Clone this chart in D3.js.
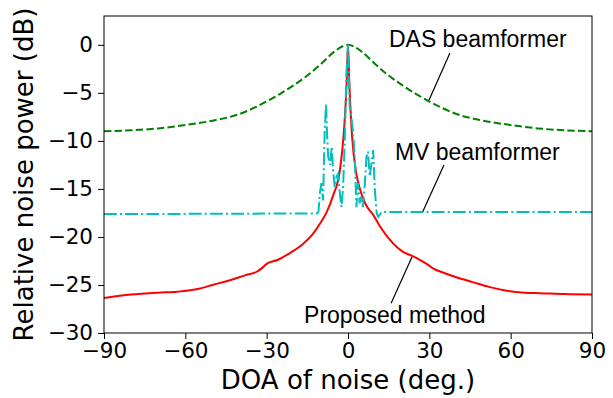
<!DOCTYPE html>
<html>
<head>
<meta charset="utf-8">
<script src="https://cdn.jsdelivr.net/npm/d3@7"></script>
<style>
  body { margin: 0; background: #fff; }
  svg { display: block; }
</style>
</head>
<body>
<script>
// DOA of noise (deg.) vs relative noise power (dB)
const dasX = [-90, -80, -70, -60, -50, -40, -30, -25, -20, -15, -10, -5, -2, 0, 2, 5, 10, 15, 20, 25, 30, 40, 50, 60, 70, 80, 90]
const dasY = [-9.0, -8.9, -8.7, -8.35, -7.9, -7.2, -5.9, -5.1, -4.2, -3.2, -2.0, -0.7, -0.15, 0, -0.15, -0.7, -2.0, -3.2, -4.2, -5.1, -5.9, -7.2, -7.9, -8.35, -8.7, -8.9, -9.0]

const mvX = [-90, -60, -30, -11.5, -10.9, -10.4, -9.8, -9.2, -8.6, -8.1, -7.7, -7.3, -6.6, -6.0, -5.5, -4.9, -4.3, -3.6, -3.0, -2.4, -1.8, -1.2, -0.6, 0,
             0.6, 1.2, 1.8, 2.5, 3.1, 3.7, 4.3, 4.9, 5.5, 6.2, 6.8, 7.4, 8.0, 8.6, 9.3, 9.9, 10.6, 11.2, 12.4, 30, 60, 90]
const mvY = [-17.6, -17.6, -17.57, -17.55, -17.4, -15.5, -14.4, -16.2, -9.0, -6.1, -9.5, -11.65, -12.5, -10.6, -13.0, -14.8, -13.8, -13.4, -15.5, -16.9, -14.8, -10.0, -3.0, 0,
             -6.4, -7.5, -8.9, -11.65, -16.9, -14.4, -16.5, -15.8, -16.9, -14.5, -11.65, -11.1, -13.7, -12.5, -10.95, -15.1, -17.55, -17.9, -17.4, -17.4, -17.4, -17.4]

const propX = [-90, -80, -70, -63, -55, -50, -43.5, -38, -33.5, -32, -30, -26, -21, -16.5, -13, -10.3, -8, -5.5, -3, -1.5, -0.5, 0,
               0.5, 1.5, 3, 4.4, 6.5, 9.3, 12, 16.7, 20, 23, 26, 29, 31.5, 35, 40, 46, 52, 58.5, 65, 70.8, 80, 90]
const propY = [-26.35, -26.0, -25.8, -25.7, -25.4, -25.0, -24.5, -24.0, -23.6, -23.3, -22.8, -22.4, -21.6, -20.7, -19.7, -18.6, -17.5, -15.7, -13.1, -9.0, -4.0, 0,
               -4.0, -9.5, -13.3, -15.0, -16.6, -17.7, -19.0, -20.7, -21.5, -21.9, -22.3, -22.8, -23.3, -23.7, -24.2, -24.7, -25.2, -25.6, -25.8, -25.85, -25.95, -26.0]

const xTicks = [-90, -60, -30, 0, 30, 60, 90]
const yTicks = [-30, -25, -20, -15, -10, -5, 0]

const notes = [
  {text: 'DAS beamformer', tx: 15.1, ty: -0.2, x1: 37.6, y1: -0.85, x2: 29.9, y2: -5.75},
  {text: 'MV beamformer', tx: 17.3, ty: -12.0, x1: 35.4, y1: -12.5, x2: 27.6, y2: -17.35},
  {text: 'Proposed method', tx: -16.2, ty: -28.95, x1: 23.6, y1: -22.1, x2: 15.9, y2: -26.9}
]

let width = 613,
    height = 398
const margin = {left: 104, right: 21, top: 16, bottom: 65}
const plotW = width - margin.left - margin.right,
      plotH = height - margin.top - margin.bottom

let svg = d3.select('body').append('svg')
  .attr('width', width)
  .attr('height', height)

const x = d3.scaleLinear().domain([-90, 90]).range([0, plotW])
const y = d3.scaleLinear().domain([-30, 3]).range([plotH, 0])

let plot = svg.append('g')
  .attr('transform', `translate(${margin.left}, ${margin.top})`)

const zip = (xs, ys) => xs.map((v, i) => [v, ys[i]])

let smooth = d3.line().x(d => x(d[0])).y(d => y(d[1])).curve(d3.curveMonotoneX)
let straight = d3.line().x(d => x(d[0])).y(d => y(d[1]))

plot.append('path')
  .attr('d', smooth(zip(dasX, dasY)))
  .style('fill', 'none')
  .style('stroke', '#008000')
  .style('stroke-width', 2)
  .style('stroke-dasharray', '7.4,3.2')

plot.append('path')
  .attr('d', smooth(zip(propX, propY)))
  .style('fill', 'none')
  .style('stroke', '#ff0000')
  .style('stroke-width', 2)

plot.append('path')
  .attr('d', straight(zip(mvX, mvY)))
  .style('fill', 'none')
  .style('stroke', '#00bfbf')
  .style('stroke-width', 2)
  .style('stroke-dasharray', '12.8,3.2,2,3.2')

// annotations
notes.forEach(n => {
  plot.append('line')
    .attr('x1', x(n.x1)).attr('y1', y(n.y1))
    .attr('x2', x(n.x2)).attr('y2', y(n.y2))
    .style('stroke', 'black')
    .style('stroke-width', 1.2)
  plot.append('text')
    .attr('x', x(n.tx))
    .attr('y', y(n.ty))
    .text(n.text)
    .style('font-family', '"Liberation Sans", Arial, sans-serif')
    .style('font-size', '23px')
})

// axes
let xAxis = plot.append('g')
  .attr('transform', `translate(0, ${plotH})`)
  .call(d3.axisBottom(x).tickValues(xTicks).tickSizeOuter(0).tickSize(6).tickPadding(4))
let yAxis = plot.append('g')
  .call(d3.axisLeft(y).tickValues(yTicks).tickSizeOuter(0).tickSize(6).tickPadding(5))

;[xAxis, yAxis].forEach(a => {
  a.select('.domain').remove()
  a.selectAll('line').style('stroke', 'black').style('stroke-width', 1)
  a.selectAll('text')
    .style('font-family', '"DejaVu Sans", sans-serif')
    .style('font-size', '21.5px')
    .style('fill', 'black')
})

plot.append('rect')
  .attr('width', plotW)
  .attr('height', plotH)
  .style('fill', 'none')
  .style('stroke', 'black')
  .style('stroke-width', 1)

svg.append('text')
  .attr('x', margin.left + plotW / 2)
  .attr('y', 389)
  .attr('text-anchor', 'middle')
  .text('DOA of noise (deg.)')
  .style('font-family', '"DejaVu Sans", sans-serif')
  .style('font-size', '26px')

svg.append('text')
  .attr('transform', `translate(33, ${margin.top + plotH / 2}) rotate(-90)`)
  .attr('text-anchor', 'middle')
  .text('Relative noise power (dB)')
  .style('font-family', '"DejaVu Sans", sans-serif')
  .style('font-size', '26px')
</script>
</body>
</html>
